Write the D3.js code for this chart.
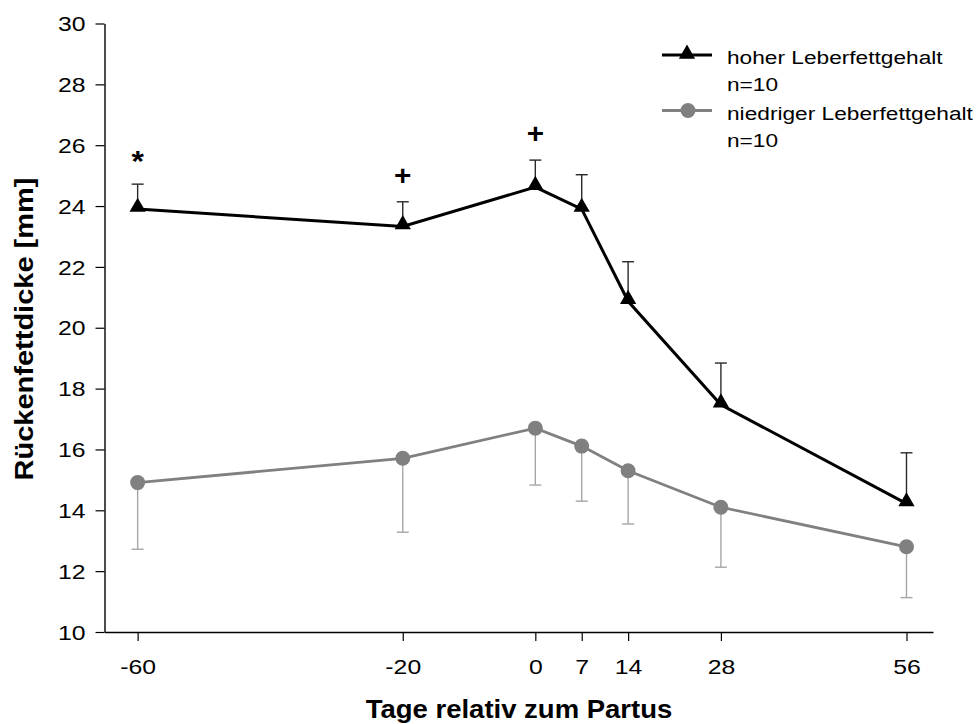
<!DOCTYPE html>
<html><head><meta charset="utf-8">
<script src="https://cdn.jsdelivr.net/npm/d3@7"></script>
<style>
html,body{margin:0;padding:0;background:#fff;}
svg{display:block;font-family:"Liberation Sans",Arial,Helvetica,sans-serif;}
</style></head>
<body>
<svg id="chart" width="979" height="724"></svg>
<script>
const days = [-60, -20, 0, 7, 14, 28, 56];
const highMean = [23.9, 23.33, 24.62, 23.9, 20.87, 17.47, 14.22];
const highErrTop = [24.72, 24.14, 25.51, 25.03, 22.17, 18.84, 15.89];
const lowMean = [14.91, 15.71, 16.7, 16.11, 15.3, 14.1, 12.8];
const lowErrBottom = [12.72, 13.28, 14.83, 14.3, 13.55, 12.13, 11.13];
const yTicks = [10, 12, 14, 16, 18, 20, 22, 24, 26, 28, 30];
const sigDays = [-60, -20, 0];
const sigSymbols = ["*", "+", "+"];
const sigValues = [25.69, 25.01, 26.37];
const seriesNames = ["hoher Leberfettgehalt", "niedriger Leberfettgehalt"];
const seriesN = ["n=10", "n=10"];
const xTitle = "Tage relativ zum Partus";
const yTitle = "Rückenfettdicke [mm]";

const SX = 1.18; // horizontal stretch of lettering in the reference
const svg = d3.select("#chart");
const x = d3.scaleLinear().domain([-65, 60]).range([104.5, 933]);
const y = d3.scaleLinear().domain([10, 30]).range([632, 23.5]);

// axes
const xAxis = svg.append("g").attr("transform", `translate(0,${y(10)})`)
  .call(d3.axisBottom(x).tickValues(days).tickSize(9).tickSizeOuter(0).tickFormat(d => String(d)));
const yAxis = svg.append("g").attr("transform", `translate(${x(-65)},0)`)
  .call(d3.axisLeft(y).tickValues(yTicks).tickSize(9).tickSizeOuter(0).tickFormat(d => String(d)));
[xAxis, yAxis].forEach(g => {
  g.select(".domain").attr("stroke", "#000").attr("stroke-width", 1.4);
  g.selectAll(".tick line").attr("stroke", "#000").attr("stroke-width", 1.2);
  g.selectAll(".tick text").attr("fill", "#000").attr("font-size", 21)
    .attr("font-family", '"Liberation Sans",Arial,sans-serif');
});
xAxis.selectAll(".tick text").attr("y", 42).attr("dy", 0).attr("transform", `scale(${SX},1)`);
yAxis.selectAll(".tick text").attr("x", -19 / SX).attr("dy", "0.34em").attr("transform", `scale(${SX},1)`);

// titles
svg.append("text").attr("transform", `translate(519,718) scale(1.1,1)`).attr("text-anchor", "middle")
  .attr("font-size", 25).attr("font-weight", "bold").text(xTitle);
svg.append("text").attr("transform", `translate(33,329) rotate(-90) scale(1.16,1)`)
  .attr("text-anchor", "middle").attr("font-size", 25).attr("font-weight", "bold").text(yTitle);

const capW = 6;
// low series error bars (downward)
const lowErrG = svg.append("g").attr("stroke", "#a6a6a6").attr("stroke-width", 1.4);
days.forEach((d, i) => {
  lowErrG.append("line").attr("x1", x(d)).attr("x2", x(d)).attr("y1", y(lowMean[i])).attr("y2", y(lowErrBottom[i]));
  lowErrG.append("line").attr("x1", x(d) - capW).attr("x2", x(d) + capW).attr("y1", y(lowErrBottom[i])).attr("y2", y(lowErrBottom[i]));
});
// high series error bars (upward)
const highErrG = svg.append("g").attr("stroke", "#2a2a2a").attr("stroke-width", 1.4);
days.forEach((d, i) => {
  highErrG.append("line").attr("x1", x(d)).attr("x2", x(d)).attr("y1", y(highMean[i])).attr("y2", y(highErrTop[i]));
  highErrG.append("line").attr("x1", x(d) - capW).attr("x2", x(d) + capW).attr("y1", y(highErrTop[i])).attr("y2", y(highErrTop[i]));
});

const line = d3.line().x(p => x(p[0])).y(p => y(p[1]));
// low line
svg.append("path").datum(days.map((d, i) => [d, lowMean[i]]))
  .attr("d", line).attr("fill", "none").attr("stroke", "#808080").attr("stroke-width", 2.8);
svg.append("g").selectAll("circle").data(days.map((d, i) => [d, lowMean[i]])).join("circle")
  .attr("cx", p => x(p[0])).attr("cy", p => y(p[1])).attr("r", 7.5).attr("fill", "#808080");
// high line
svg.append("path").datum(days.map((d, i) => [d, highMean[i]]))
  .attr("d", line).attr("fill", "none").attr("stroke", "#000").attr("stroke-width", 3);
const tri = d3.symbol().type(d3.symbolTriangle).size(115);
svg.append("g").selectAll("path").data(days.map((d, i) => [d, highMean[i]])).join("path")
  .attr("d", tri).attr("transform", p => `translate(${x(p[0])},${y(p[1]) - 2})`).attr("fill", "#000");

// significance markers
svg.append("g").selectAll("text").data(sigDays.map((d, i) => [d, sigValues[i], sigSymbols[i]])).join("text")
  .attr("transform", p => `translate(${x(p[0])},${y(p[1])}) scale(1.1,1)`).attr("text-anchor", "middle")
  .attr("dy", p => p[2] === "*" ? "0.58em" : "0.34em")
  .attr("font-size", p => p[2] === "*" ? 29 : 27).attr("font-weight", "bold").text(p => p[2]);

// legend
const lg = svg.append("g");
const legendY = [55, 110.5];
const legendTextY = [[63.5, 91], [119.5, 146.5]];
const legendColors = ["#000", "#808080"];
legendY.forEach((ly, i) => {
  lg.append("line").attr("x1", 662).attr("x2", 712).attr("y1", ly).attr("y2", ly)
    .attr("stroke", legendColors[i]).attr("stroke-width", i === 0 ? 3 : 2.8);
  if (i === 0) {
    lg.append("path").attr("d", tri).attr("transform", `translate(687,${ly - 1})`).attr("fill", "#000");
  } else {
    lg.append("circle").attr("cx", 688).attr("cy", ly).attr("r", 7.5).attr("fill", "#808080");
  }
  lg.append("text").attr("transform", `translate(727,${legendTextY[i][0]}) scale(${SX + 0.04},1)`)
    .attr("font-size", 18.6).text(seriesNames[i]);
  lg.append("text").attr("transform", `translate(727,${legendTextY[i][1]}) scale(${SX + 0.04},1)`)
    .attr("font-size", 18.6).text(seriesN[i]);
});
</script>
</body></html>
